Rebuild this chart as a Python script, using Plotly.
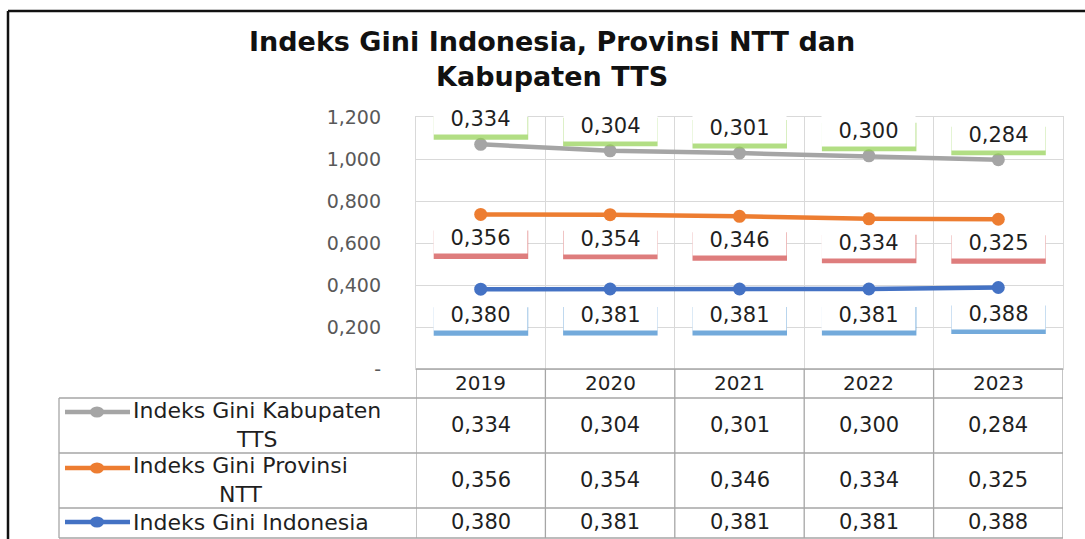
import numpy as np
import plotly.graph_objects as go

W, H = 1085, 539

years = ["2019", "2020", "2021", "2022", "2023"]
series_names = ["Indeks Gini Indonesia", "Indeks Gini Provinsi NTT", "Indeks Gini Kabupaten TTS"]
gini_indonesia = [0.380, 0.381, 0.381, 0.381, 0.388]
gini_ntt = [0.356, 0.354, 0.346, 0.334, 0.325]
gini_tts = [0.334, 0.304, 0.301, 0.300, 0.284]
y_tickvals = [0.0, 0.2, 0.4, 0.6, 0.8, 1.0, 1.2]
y_ticktext = ["-", "0,200", "0,400", "0,600", "0,800", "1,000", "1,200"]

line_colors = ["#4472c4", "#ed7d31", "#a5a5a5"]
shadow_colors = ["rgba(91,155,213,0.85)", "rgba(214,92,92,0.8)", "rgba(146,208,80,0.7)"]
label_shift = [-26, -24, 25]
FONT = "DejaVu Sans"
TXT = "#1f1f1f"


def px(x):
    return x / W


def py(y):
    return 1 - y / H


def fmt(v):
    return f"{v:.3f}".replace(".", ",")


series = [gini_indonesia, gini_ntt, gini_tts]
cum = np.cumsum(np.array(series), axis=0)
xi = np.arange(len(years))

fig = go.Figure()
for i, (name, vals) in enumerate(zip(series_names, series)):
    fig.add_trace(go.Scatter(
        x=xi, y=cum[i], name=name, mode="lines+markers",
        line=dict(color=line_colors[i], width=4.5),
        marker=dict(color=line_colors[i], size=13),
        showlegend=False, hoverinfo="skip", cliponaxis=False))

shapes = []
annotations = []

# data labels with coloured shadow
for i, vals in enumerate(series):
    for j in range(len(years)):
        s = label_shift[i]
        shapes.append(dict(
            type="rect", xref="x", yref="y", xsizemode="pixel", ysizemode="pixel",
            xanchor=float(xi[j]), yanchor=float(cum[i][j]),
            x0=-47, x1=47.5, y0=s - 20.5, y1=s + 8,
            fillcolor=shadow_colors[i], line=dict(width=0), layer="above"))
        annotations.append(dict(
            x=float(xi[j]), y=float(cum[i][j]), xref="x", yref="y", yshift=s,
            xanchor="center", yanchor="middle",
            text=fmt(vals[j]), showarrow=False, bgcolor="white",
            width=93, height=30, borderpad=0,
            font=dict(family=FONT, size=21, color=TXT)))

# table geometry (pixel rows)
tbl_top, hdr_bot = 369, 398
row_lines = [398, 453, 508, 538]
row_text_y = [522, 480, 425]          # Indonesia, NTT, TTS
row_symbol_y = [522, 468, 412]
tbl_left, tbl_right = 59, 1063
grid_col = "#a6a6a6"

# vertical lines of table (category boundaries)
for k in range(len(years) + 1):
    shapes.append(dict(type="line", xref="x", yref="paper",
                       x0=k - 0.5, x1=k - 0.5, y0=py(tbl_top), y1=py(row_lines[-1]),
                       line=dict(color=grid_col, width=1.3)))
shapes.append(dict(type="line", xref="x", yref="paper", x0=-0.5, x1=len(years) - 0.5,
                   y0=py(tbl_top), y1=py(tbl_top), line=dict(color=grid_col, width=1.3)))
shapes.append(dict(type="line", xref="paper", yref="paper", x0=px(tbl_left), x1=px(tbl_left),
                   y0=py(hdr_bot), y1=py(row_lines[-1]), line=dict(color=grid_col, width=1.3)))
for yl in row_lines:
    shapes.append(dict(type="line", xref="paper", yref="paper", x0=px(tbl_left), x1=px(tbl_right),
                       y0=py(yl), y1=py(yl), line=dict(color=grid_col, width=1.3)))

# header years
for j, yr in enumerate(years):
    annotations.append(dict(x=float(xi[j]), xref="x", y=py(383), yref="paper", text=yr, showarrow=False,
                            xanchor="center", yanchor="middle",
                            font=dict(family=FONT, size=20, color=TXT)))
# values
for i, vals in enumerate(series):
    for j in range(len(years)):
        annotations.append(dict(x=float(xi[j]), xref="x", y=py(row_text_y[i]), yref="paper",
                                text=fmt(vals[j]), showarrow=False, xanchor="center", yanchor="middle",
                                font=dict(family=FONT, size=21, color=TXT)))

# legend column
legend_text = ["Indeks Gini Indonesia", "Indeks Gini Provinsi<br>NTT", "Indeks Gini Kabupaten<br>TTS"]
for i in range(3):
    annotations.append(dict(x=px(131), xref="paper", xanchor="left", y=py(row_text_y[i]), yref="paper",
                            yanchor="middle", text=legend_text[i], showarrow=False, align="center",
                            font=dict(family=FONT, size=22, color=TXT)))
    ys = py(row_symbol_y[i])
    shapes.append(dict(type="line", xref="paper", yref="paper", x0=px(65), x1=px(130), y0=ys, y1=ys,
                       line=dict(color=line_colors[i], width=4.5)))
    shapes.append(dict(type="circle", xref="paper", yref="paper", x0=px(90), x1=px(104),
                       y0=py(row_symbol_y[i] + 5.5), y1=py(row_symbol_y[i] - 5.5),
                       fillcolor=line_colors[i], line=dict(width=0)))

# outer frame (top and left edges visible in the crop)
shapes.append(dict(type="line", xref="paper", yref="paper", x0=px(8), x1=1.0, y0=py(11), y1=py(11),
                   line=dict(color="#111111", width=2.5)))
shapes.append(dict(type="line", xref="paper", yref="paper", x0=px(8), x1=px(8), y0=py(11), y1=0.0,
                   line=dict(color="#111111", width=2.5)))

# title
annotations.append(dict(x=px(552), y=py(59), xref="paper", yref="paper", xanchor="center", yanchor="middle",
                        text="<b>Indeks Gini Indonesia, Provinsi NTT dan<br>Kabupaten TTS</b>",
                        showarrow=False, font=dict(family=FONT, size=27, color="#111111")))

fig.update_layout(
    width=W, height=H, margin=dict(l=0, r=0, t=0, b=0, autoexpand=False),
    paper_bgcolor="white", plot_bgcolor="white",
    shapes=shapes, annotations=annotations,
    xaxis=dict(domain=[px(416), px(1063)], range=[-0.5, len(years) - 0.5],
               tickvals=list(xi[:-1] + 0.5), showgrid=True, gridcolor="#d9d9d9", gridwidth=1.3,
               showline=True, mirror=True, linecolor="#d9d9d9", linewidth=1.3, zeroline=False,
               showticklabels=False, ticks="", fixedrange=True, automargin=False),
    yaxis=dict(domain=[py(369), py(117)], range=[0, 1.2], tickvals=y_tickvals, ticktext=y_ticktext,
               showgrid=True, gridcolor="#d9d9d9", gridwidth=1.3, zeroline=False,
               showline=True, mirror=True, linecolor="#d9d9d9", linewidth=1.3,
               ticks="", ticklabelstandoff=30, automargin=False,
               tickfont=dict(family=FONT, size=19, color="#595959"), fixedrange=True),
)

fig.write_html("out.html", config={"displayModeBar": False},
               post_script="document.body.style.margin='0';document.body.style.overflow='hidden';")
